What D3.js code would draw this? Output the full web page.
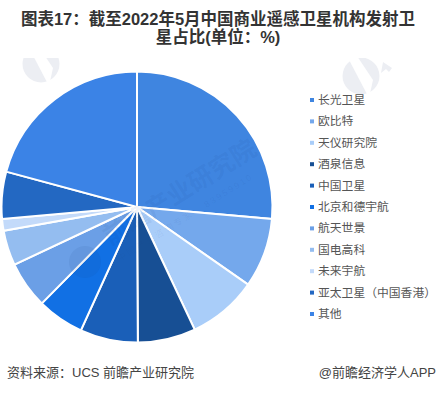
<!DOCTYPE html>
<html><head><meta charset="utf-8">
<script src="https://cdn.jsdelivr.net/npm/d3@7"></script>
<style>html,body{margin:0;padding:0;background:#fff}svg{display:block}</style>
</head><body>
<script>
const categories = ["长光卫星","欧比特","天仪研究院","酒泉信息","中国卫星","北京和德宇航","航天世景","国电高科","未来宇航","亚太卫星（中国香港）","其他"];
const shares = [26.4,8.3,8.3,6.9,6.9,5.6,5.6,4.2,1.4,5.6,20.8];
const sliceColors = ["#3f85e0","#74a8ec","#a9cdf9","#174f94","#1a5fb8","#1170e4","#6b9fe6","#94bdf0","#c3dafa","#2368c2","#3b83e6"];
const titleLines = ["图表17：截至2022年5月中国商业遥感卫星机构发射卫","星占比(单位：%)"];
const sourceText = "资料来源：UCS 前瞻产业研究院";
const creditText = "@前瞻经济学人APP";
const watermarkName = "前瞻产业研究院";
const watermarkSmall = "中国产业咨询专家 · 83959910";
const font = "'Liberation Sans','Noto Sans CJK SC',sans-serif";
const svg = d3.select("body").append("svg").attr("width",436).attr("height",393).style("font-family",font);
const defs = svg.append("defs");
defs.append("clipPath").attr("id","topclip").append("rect").attr("x",0).attr("y",58).attr("width",436).attr("height",60);
function logo(parent,cx,cy,r,fill){
  const l = parent.append("g").attr("transform",`translate(${cx},${cy})`);
  l.append("circle").attr("r",r).attr("fill",fill);
  return l;
}
const wm = svg.append("g").attr("clip-path","url(#topclip)");
[[41,64],[361,76]].forEach(c=>{
  logo(wm,c[0],c[1],18.5,"#eceef3");
  wm.append("path").attr("transform",`translate(${c[0]},${c[1]})`).attr("d","M-14 -20 L-4 -20 L12 4 L8 22 Z").attr("fill","#fff");
});
wm.append("path").attr("d","M383 62 L392 68 L389 72 L386 69 L381 73 Z").attr("fill","#eceef3");
const title = svg.append("g").attr("font-weight","bold").attr("font-size",16.5).attr("fill","#333").attr("text-anchor","middle");
titleLines.forEach((t,i)=>title.append("text").attr("x",218).attr("y",[25,42.5][i]).text(t));
const pie = d3.pie().sort(null).value(d=>d)(shares);
const arc = d3.arc().innerRadius(0).outerRadius(135.5);
const g = svg.append("g").attr("transform","translate(137,207)");
g.selectAll("path").data(pie).join("path").attr("d",arc).attr("fill",(d,i)=>sliceColors[i]).attr("stroke","#fff").attr("stroke-width",2);
const over = svg.append("g").attr("fill","#1a3f80").attr("fill-opacity",0.08);
over.append("circle").attr("cx",85).attr("cy",262).attr("r",16);
over.append("text").attr("transform","translate(110,246) rotate(-32)").attr("font-size",25).attr("font-weight","bold").text(watermarkName);
over.append("text").attr("transform","translate(120,262) rotate(-32)").attr("font-size",9).attr("letter-spacing",2).text(watermarkSmall);
const y = d3.scalePoint().domain(categories).range([100,314]);
const lg = svg.append("g").selectAll("g").data(categories).join("g").attr("transform",d=>`translate(310,${y(d)})`);
lg.append("rect").attr("x",0).attr("y",-2).attr("width",4).attr("height",4).attr("fill",(d,i)=>sliceColors[i]);
lg.append("text").attr("x",8).attr("y",4).attr("font-size",11.8).attr("fill","#555").text(d=>d);
svg.append("text").attr("x",7).attr("y",377).attr("font-size",13).attr("fill","#444").text(sourceText);
svg.append("text").attr("x",436).attr("y",377).attr("text-anchor","end").attr("font-size",13).attr("fill","#444").text(creditText);
</script>
</body></html>
